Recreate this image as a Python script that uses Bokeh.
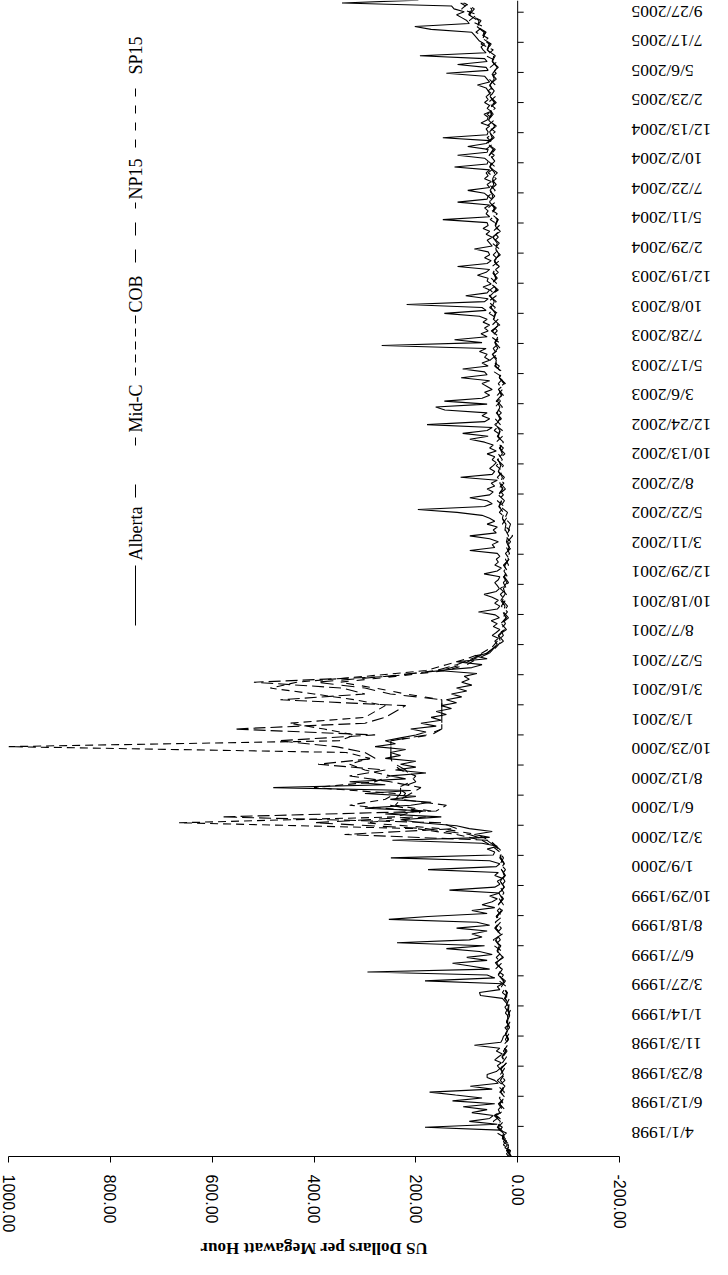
import math
import numpy as np
from bokeh.plotting import figure
from bokeh.layouts import row, column
from bokeh.core.properties import value
from bokeh.models import (Range1d, LinearAxis, FixedTicker, NumeralTickFormatter,
                          Span, Label, Arrow)
from bokeh.embed import file_html
from bokeh.resources import INLINE

# ---------------- data ----------------
# day 0 = 4/1/1998 ; date ticks every 72 days (category axis of daily data)
TICK_STEP_DAYS = 72
TICK_LABELS = [
    "4/1/1998", "6/12/1998", "8/23/1998", "11/3/1998", "1/14/1999", "3/27/1999",
    "6/7/1999", "8/18/1999", "10/29/1999", "1/9/2000", "3/21/2000", "6/1/2000",
    "8/12/2000", "10/23/2000", "1/3/2001", "3/16/2001", "5/27/2001", "8/7/2001",
    "10/18/2001", "12/29/2001", "3/11/2002", "5/22/2002", "8/2/2002", "10/13/2002",
    "12/24/2002", "3/6/2003", "5/17/2003", "7/28/2003", "10/8/2003", "12/19/2003",
    "2/29/2004", "5/11/2004", "7/22/2004", "10/2/2004", "12/13/2004", "2/23/2005",
    "5/6/2005", "7/17/2005", "9/27/2005",
]
VALUE_TICKS = [1000, 800, 600, 400, 200, 0, -200]
VALUE_TITLE = "US Dollars per Megawatt Hour"
LAST_DAY = 2764

# Alberta: weekly values (US$/MWh), starting 4/1/1998
ALBERTA_STEP_DAYS = 7
ALBERTA = [
    18, 22, 15, 25, 20, 28, 24, 30, 22, 35,
    182, 40, 95, 55, 48, 90, 60, 107, 45, 128,
    70, 122, 173, 50, 93, 38, 45, 60, 60, 42,
    35, 40, 32, 45, 38, 30, 42, 35, 85, 33,
    30, 28, 22, 20, 25, 18, 22, 20, 19, 24, 21, 25,
    20, 25, 30, 73, 75, 35, 40, 30, 182, 45,
    60, 295, 55, 90, 128, 60, 100, 50, 75, 140,
    65, 237, 95, 70, 90, 60, 120, 55, 80, 253,
    176, 60, 90, 45, 70, 50, 40, 55, 35, 134,
    45, 35, 40, 30, 45, 38, 176, 42, 35, 55, 249, 48,
    45, 60, 40, 70, 246, 55, 85, 50, 95, 120,
    190, 230, 150, 260, 180, 300, 210, 170, 250, 200,
    300, 210, 480, 260, 330, 220, 250, 180, 240, 200,
    230, 200, 260, 230, 250, 220, 280, 240, 260, 230,
    200, 180, 210, 160, 190, 150, 170, 140, 160, 130, 150, 120,
    140, 110, 130, 100, 120, 90, 110, 95, 105, 80,
    157, 90, 70, 120, 60, 84, 55, 50, 45, 40,
    45, 38, 50, 42, 35, 48, 40, 52, 36, 44,
    77, 40, 35, 45, 38, 50, 66, 42, 36, 40,
    45, 38, 35, 66, 40, 32, 45, 38, 42, 35, 40, 94,
    45, 50, 38, 55, 94, 42, 48, 40, 60, 45,
    55, 70, 119, 196, 65, 50, 60, 94, 55, 48,
    60, 45, 52, 40, 112, 50, 45, 55, 48, 42,
    50, 45, 60, 42, 55, 48, 65, 94, 58, 108,
    60, 50, 178, 65, 55, 70, 60, 143, 161, 60, 144, 70,
    55, 65, 50, 60, 70, 55, 111, 60, 65, 108,
    58, 70, 55, 65, 60, 75, 62, 267, 70, 124,
    60, 72, 58, 65, 55, 68, 60, 75, 144, 62,
    70, 218, 65, 58, 102, 60, 55, 68, 52, 60,
    58, 79, 62, 55, 118, 60, 52, 65, 55, 58, 85, 50,
    55, 60, 50, 62, 55, 68, 58, 60, 147, 55,
    62, 58, 65, 55, 118, 60, 58, 65, 98, 55,
    60, 52, 65, 58, 62, 55, 124, 60, 58, 65,
    118, 60, 58, 98, 62, 55, 147, 60, 58, 62,
    55, 72, 60, 58, 66, 52, 60, 55, 65, 58, 62, 55,
    58, 62, 79, 55, 60, 65, 140, 58, 62, 118,
    60, 65, 192, 62, 68, 72, 65, 75, 80, 85,
    90, 170, 202, 95, 100, 110, 120, 105, 125, 130, 345, 195,
]

# western hubs: bi-weekly values (US$/MWh), starting 4/1/1998
HUB_STEP_DAYS = 14
MID_C = [
    12, 22, 15, 30, 25, 38, 28, 42, 25, 36, 24, 34, 27, 40, 26, 33, 22, 30, 24, 28, 18, 25, 16, 22, 15, 20,
    17, 26, 20, 32, 24, 38, 30, 45, 28, 40, 33, 48, 30, 44, 34, 42, 30, 38, 28, 36, 26, 34, 24, 32, 26, 35,
    30, 42, 55, 340, 120, 150, 581, 160, 140, 230, 210, 190, 250, 330, 260, 392, 280, 300, 357, 470, 280, 557, 300, 260, 240, 220,
    466, 300, 344, 518, 250, 160, 120, 90, 60, 45, 28, 38, 22, 32, 18, 28, 20, 30, 22, 34, 18, 26, 20, 28, 16, 24,
    12, 20, 10, 18, 14, 25, 20, 34, 26, 38, 24, 34, 26, 38, 28, 40, 25, 36, 28, 40, 30, 45, 32, 42, 30, 40,
    28, 38, 24, 36, 30, 45, 38, 50, 34, 44, 36, 52, 35, 48, 40, 55, 42, 56, 38, 52, 40, 50, 36, 48, 34, 46,
    36, 50, 34, 46, 38, 52, 42, 56, 45, 55, 42, 52, 40, 56, 45, 54, 44, 60, 46, 56, 42, 58, 48, 56, 42, 54,
    46, 56, 42, 52, 38, 50, 44, 60, 52, 70, 62, 80, 72, 95, 85, 105,
]
COB = [
    18, 14, 28, 20, 40, 30, 48, 32, 38, 28, 36, 26, 38, 25, 34, 26, 30, 22, 28, 20, 24, 17, 21, 15, 20, 14,
    22, 16, 30, 22, 36, 28, 44, 32, 42, 30, 46, 34, 42, 32, 44, 30, 40, 28, 36, 27, 34, 25, 32, 24, 34, 28,
    35, 50, 70, 120, 200, 665, 240, 200, 330, 260, 240, 400, 280, 250, 300, 330, 290, 337, 1000, 350, 320, 380, 448, 300, 280, 260,
    320, 400, 486, 434, 300, 180, 140, 100, 70, 50, 40, 28, 34, 24, 30, 20, 32, 24, 34, 22, 28, 20, 27, 18, 24, 16,
    22, 14, 24, 16, 30, 22, 36, 26, 40, 28, 38, 27, 40, 29, 42, 30, 38, 28, 42, 30, 46, 34, 44, 32, 44, 34,
    40, 30, 38, 28, 46, 36, 54, 40, 48, 36, 52, 40, 50, 38, 56, 44, 58, 42, 54, 40, 52, 38, 50, 36, 48, 36,
    50, 38, 48, 36, 54, 40, 58, 44, 58, 44, 56, 42, 58, 44, 58, 46, 62, 48, 60, 44, 60, 46, 60, 44, 58, 44,
    58, 44, 56, 42, 54, 40, 62, 48, 72, 58, 82, 68, 95, 80, 110, 96,
]
NP15 = [
    14, 20, 18, 30, 28, 42, 34, 46, 30, 38, 26, 35, 25, 36, 28, 34, 24, 31, 23, 28, 19, 24, 17, 21, 16, 19,
    18, 24, 22, 30, 28, 38, 34, 43, 30, 41, 36, 45, 34, 45, 36, 42, 32, 40, 30, 37, 28, 34, 26, 33, 27, 34,
    34, 45, 60, 95, 180, 400, 200, 190, 250, 240, 230, 230, 200, 210, 220, 240, 249, 249, 249, 249, 180, 149, 149, 149, 149, 149,
    149, 250, 300, 395, 260, 150, 110, 85, 60, 45, 34, 38, 27, 33, 23, 29, 26, 33, 25, 30, 21, 28, 22, 26, 18, 22,
    17, 22, 19, 25, 23, 31, 28, 37, 32, 38, 30, 35, 31, 38, 33, 40, 30, 35, 31, 39, 35, 44, 35, 40, 36, 42,
    32, 38, 27, 36, 34, 44, 42, 50, 39, 45, 40, 50, 38, 48, 44, 52, 47, 54, 42, 50, 43, 48, 40, 46, 37, 44,
    40, 49, 38, 44, 40, 50, 46, 55, 50, 54, 47, 50, 45, 55, 50, 56, 48, 60, 50, 55, 46, 57, 52, 55, 46, 54,
    50, 55, 46, 50, 40, 50, 48, 60, 56, 70, 66, 80, 78, 96, 92, 112,
]
SP15 = [
    13, 18, 16, 28, 26, 40, 32, 44, 28, 35, 25, 33, 24, 34, 26, 32, 22, 29, 21, 26, 18, 22, 16, 20, 15, 18,
    17, 22, 21, 28, 27, 36, 32, 41, 29, 39, 35, 43, 33, 43, 35, 40, 31, 38, 29, 35, 27, 32, 25, 31, 26, 33,
    33, 43, 55, 80, 150, 300, 180, 170, 240, 230, 220, 235, 210, 200, 230, 245, 249, 249, 249, 249, 170, 149, 149, 149, 149, 149,
    149, 220, 280, 350, 240, 140, 100, 80, 55, 42, 32, 36, 26, 31, 22, 28, 25, 31, 24, 28, 20, 27, 21, 25, 17, 21,
    16, 21, 18, 24, 22, 30, 27, 36, 31, 37, 29, 34, 30, 37, 32, 39, 29, 34, 30, 38, 34, 43, 34, 39, 35, 41,
    31, 37, 26, 35, 33, 43, 41, 49, 38, 44, 39, 49, 37, 47, 43, 51, 46, 53, 41, 49, 42, 47, 39, 45, 36, 43,
    39, 48, 37, 43, 39, 49, 45, 54, 49, 53, 46, 49, 44, 54, 49, 55, 47, 59, 49, 54, 45, 56, 51, 54, 45, 53,
    49, 54, 45, 49, 39, 49, 47, 59, 55, 68, 64, 78, 76, 94, 90, 108,
]

SERIES = [
    ("Alberta", ALBERTA, ALBERTA_STEP_DAYS),
    ("Mid-C", MID_C, HUB_STEP_DAYS),
    ("COB", COB, HUB_STEP_DAYS),
    ("NP15", NP15, HUB_STEP_DAYS),
    ("SP15", SP15, HUB_STEP_DAYS),
]

# ---------------- styles / layout ----------------
PLOT_DASH = {"Alberta": "solid", "Mid-C": "12 5", "COB": "8 5", "NP15": "13 8", "SP15": "8 8"}
KEY_DASH = {"Alberta": "solid", "Mid-C": "13 39", "COB": "8 5", "NP15": "13 14", "SP15": "8 9"}
B_LEFT, B_RIGHT_MAIN, B_BOTTOM = 8, 8, 80
FRAME_W, FRAME_H = 611, 1156
MAIN_W = B_LEFT + FRAME_W + B_RIGHT_MAIN
MAIN_H = FRAME_H + B_BOTTOM
LAB_W = 720 - MAIN_W
LAB_PAD = 24          # extra px below the frame so the last date label is not clipped
TITLE_H = 23
# legend layout (screen px from the main frame's bottom-left corner)
LEG_X = 127
KEY_START = {"Alberta": 531, "Mid-C": 659, "COB": 781, "NP15": 894, "SP15": 1009}
KEY_LEN = 60
TEXT_START = {"Alberta": 596, "Mid-C": 724, "COB": 844, "NP15": 957, "SP15": 1082}

# ---------------- main plot ----------------
p = figure(width=MAIN_W, height=MAIN_H, output_backend="svg", toolbar_location=None,
           x_range=Range1d(1000, -200), y_range=Range1d(0, LAST_DAY),
           x_axis_location=None, y_axis_location=None,
           min_border_left=B_LEFT, min_border_right=B_RIGHT_MAIN,
           min_border_top=0, min_border_bottom=B_BOTTOM)
p.outline_line_color = None
p.xgrid.visible = False
p.ygrid.visible = False
p.background_fill_color = "white"
p.border_fill_color = "white"

for name, vals, step in SERIES:
    days = np.arange(len(vals)) * step
    p.line(x=vals, y=days, line_color="black", line_width=1.1, line_dash=PLOT_DASH[name])

xax = LinearAxis(ticker=FixedTicker(ticks=VALUE_TICKS),
                 formatter=NumeralTickFormatter(format="0.00"))
xax.major_label_orientation = "vertical"
xax.major_tick_out = 6
xax.major_tick_in = 0
xax.minor_tick_out = 0
xax.minor_tick_in = 0
xax.major_label_standoff = 12
xax.major_label_text_font = "Liberation Sans"
xax.major_label_text_font_size = "16px"
xax.major_label_text_color = "black"
xax.axis_line_color = "black"
xax.major_tick_line_color = "black"
p.add_layout(xax, "below")

tick_days = [i * TICK_STEP_DAYS for i in range(len(TICK_LABELS))]
# date axis line crossing at value 0, with its tick marks
p.add_layout(Span(location=0, dimension="height", line_color="black", line_width=1))
p.ray(x=[0] * len(tick_days), y=tick_days, length=6, length_units="screen", angle=0,
      line_color="black", line_width=1)

# legend (rotated, as in the reference)
for name, _, _ in SERIES:
    s = KEY_START[name]
    p.add_layout(Arrow(x_start=LEG_X, y_start=s, x_end=LEG_X, y_end=s + KEY_LEN,
                       start_units="screen", end_units="screen", start=None, end=None,
                       line_color="black", line_width=1, line_dash=KEY_DASH[name]))
    p.add_layout(Label(x=LEG_X, y=TEXT_START[name], x_units="screen", y_units="screen",
                       text=name, angle=math.pi / 2, text_align="left", text_baseline="middle",
                       text_font="Liberation Serif", text_font_size="18px", text_color="black"))

# ---------------- date labels (upside-down, right of the plot) ----------------
px_per_day = FRAME_H / LAST_DAY
lab = figure(width=LAB_W, height=MAIN_H, output_backend="svg", toolbar_location=None,
             x_range=Range1d(0, 1), y_range=Range1d(-LAB_PAD / px_per_day, LAST_DAY),
             x_axis_location=None, y_axis_location=None,
             min_border_left=0, min_border_right=0, min_border_top=0,
             min_border_bottom=B_BOTTOM - LAB_PAD)
lab.outline_line_color = None
lab.xgrid.visible = False
lab.ygrid.visible = False
lab.text(x=[0] * len(tick_days), y=tick_days, text=TICK_LABELS, x_offset=4,
         angle=math.pi, text_align="right", text_baseline="middle",
         text_font=value("Liberation Serif"), text_font_size=value("17.5px"),
         text_color="black")

# ---------------- value-axis title (upside-down, below the plot) ----------------
tit = figure(width=720, height=TITLE_H, output_backend="svg", toolbar_location=None,
             x_range=p.x_range, y_range=Range1d(0, 1),
             x_axis_location=None, y_axis_location=None,
             min_border_left=B_LEFT, min_border_right=720 - MAIN_W + B_RIGHT_MAIN,
             min_border_top=0, min_border_bottom=0)
tit.outline_line_color = None
tit.xgrid.visible = False
tit.ygrid.visible = False
tit.text(x=[(max(VALUE_TICKS) + min(VALUE_TICKS)) / 2], y=[0.5], text=[VALUE_TITLE],
         angle=math.pi, text_align="center", text_baseline="middle",
         text_font=value("Liberation Serif"), text_font_style="bold",
         text_font_size=value("17px"), text_color="black")

layout = column(row(p, lab, spacing=0), tit, spacing=0)
open("out.html", "w").write(file_html(layout, INLINE))
